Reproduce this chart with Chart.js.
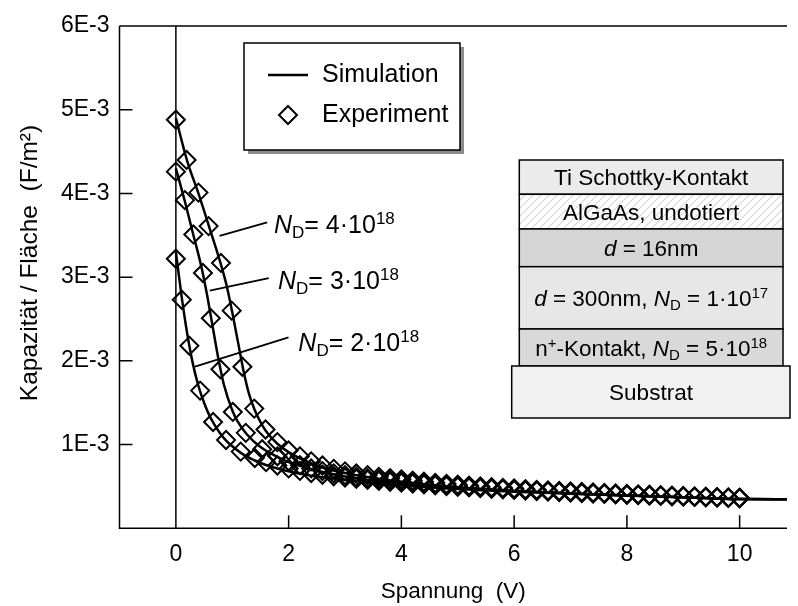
<!DOCTYPE html>
<html><head><meta charset="utf-8">
<script src="https://cdn.jsdelivr.net/npm/chart.js@4.4.1/dist/chart.umd.min.js"></script>
<style>html,body{margin:0;padding:0;background:#fff}#wrap{width:798px;height:606px;position:relative}</style>
</head><body><div id="wrap"><canvas id="c" width="798" height="606"></canvas></div>
<script>
const FONT = '"Liberation Sans", Arial, Helvetica, sans-serif';

// ---- Data (capacitance per area in units of 1E-3 F/m^2, voltage in V) ----
const xTicks = [0, 2, 4, 6, 8, 10];
const yTicks = [1, 2, 3, 4, 5, 6];

const exp4X = [0,0.19,0.40,0.58,0.80,0.99,1.18,1.39,1.59,1.8,2.0,2.2,2.4,2.6,2.8,3.0,3.2,3.4,3.6,3.8,4.0,4.2,4.4,4.6,4.8,5.0,5.2,5.4,5.6,5.8,6.0,6.2,6.4,6.6,6.8,7.0,7.2,7.4,7.6,7.8,8.0,8.2,8.4,8.6,8.8,9.0,9.2,9.4,9.6,9.8,10.0];
const exp4Y = [4.88,4.40,4.01,3.61,3.17,2.60,1.93,1.43,1.18,1.03,0.93,0.86,0.80,0.75,0.71,0.68,0.655,0.635,0.615,0.60,0.585,0.57,0.556,0.543,0.531,0.52,0.51,0.5,0.491,0.483,0.475,0.467,0.46,0.453,0.446,0.44,0.434,0.428,0.422,0.416,0.411,0.406,0.401,0.396,0.391,0.386,0.381,0.377,0.373,0.369,0.365];

const exp3X = [0,0.16,0.31,0.48,0.62,0.79,1.01,1.24,1.53,1.8,2.0,2.2,2.4,2.6,2.8,3.0,3.2,3.4,3.6,3.8,4.0,4.2,4.4,4.6,4.8,5.0,5.2,5.4,5.6,5.8,6.0,6.2,6.4,6.6,6.8,7.0,7.2,7.4,7.6,7.8,8.0,8.2,8.4,8.6,8.8,9.0,9.2,9.4,9.6,9.8,10.0];
const exp3Y = [4.26,3.92,3.51,3.05,2.51,1.90,1.39,1.14,0.944,0.86,0.80,0.755,0.715,0.683,0.657,0.635,0.616,0.60,0.585,0.572,0.56,0.548,0.536,0.525,0.515,0.505,0.496,0.487,0.479,0.471,0.464,0.457,0.45,0.444,0.438,0.432,0.426,0.42,0.415,0.41,0.405,0.4,0.395,0.39,0.386,0.381,0.377,0.373,0.369,0.365,0.361];

const exp2X = [0,0.105,0.24,0.43,0.66,0.89,1.15,1.4,1.6,1.8,2.0,2.2,2.4,2.6,2.8,3.0,3.2,3.4,3.6,3.8,4.0,4.2,4.4,4.6,4.8,5.0,5.2,5.4,5.6,5.8,6.0,6.2,6.4,6.6,6.8,7.0,7.2,7.4,7.6,7.8,8.0,8.2,8.4,8.6,8.8,9.0,9.2,9.4,9.6,9.8,10.0];
const exp2Y = [3.22,2.73,2.18,1.645,1.27,1.055,0.916,0.84,0.79,0.75,0.715,0.685,0.66,0.64,0.622,0.606,0.592,0.579,0.567,0.556,0.545,0.534,0.524,0.514,0.505,0.496,0.488,0.48,0.472,0.465,0.458,0.451,0.445,0.439,0.433,0.427,0.421,0.416,0.411,0.406,0.401,0.396,0.391,0.387,0.383,0.379,0.375,0.371,0.367,0.363,0.359];

const sim4X = [0,0.2,0.4,0.6,0.8,0.9,1.0,1.1,1.2,1.3,1.4,1.5,1.6,1.8,2.0,2.5,3,3.5,4,5,6,7,8,9,9.5,10,10.84];
const sim4Y = [4.9,4.39,4.0,3.58,3.15,2.9,2.58,2.23,1.88,1.6,1.41,1.27,1.16,1.01,0.91,0.75,0.66,0.6,0.555,0.49,0.45,0.418,0.393,0.37,0.358,0.349,0.347];

const sim3X = [0,0.15,0.3,0.45,0.55,0.65,0.75,0.85,1.0,1.1,1.25,1.5,1.75,2.0,2.5,3,3.5,4,5,6,7,8,9,9.5,10,10.84];
const sim3Y = [4.3,3.93,3.53,3.13,2.8,2.42,2.04,1.72,1.41,1.27,1.13,0.97,0.87,0.79,0.69,0.62,0.57,0.535,0.48,0.443,0.415,0.392,0.37,0.358,0.349,0.347];

const sim2X = [0,0.1,0.2,0.3,0.4,0.5,0.6,0.7,0.8,0.9,1.0,1.2,1.5,2.0,2.5,3.0,3.5,4,5,6,7,8,9,9.5,10,10.84];
const sim2Y = [3.3,2.78,2.33,1.97,1.7,1.5,1.34,1.22,1.12,1.04,0.98,0.88,0.78,0.68,0.62,0.58,0.545,0.515,0.47,0.438,0.413,0.391,0.37,0.358,0.349,0.347];

// annotation labels: leader start, leader end, text anchor (data units)
const ndLabels = ['4', '3', '2'];
const ndLeaderFrom = [[0.775, 3.494], [0.601, 2.840], [0.339, 1.932]];
const ndLeaderTo = [[1.619, 3.653], [1.648, 2.988], [1.998, 2.28]];
const ndTextAt = [[1.74, 3.64], [1.812, 2.966], [2.172, 2.227]];

const xTitle = 'Spannung  (V)';
const yTitle = 'Kapazität / Fläche  (F/m²)';
const legendLabels = ['Simulation', 'Experiment'];

// ---- helpers ----
const pts = (xs, ys) => xs.map((x, i) => ({x, y: ys[i]}));

function drawRich(ctx, segs, x, yc, size, align) {
  const parts = segs.map(([t, st]) => {
    const small = (st === 'sub' || st === 'sup');
    const s = small ? Math.round(size * 0.68) : size;
    const f = (st === 'i' ? 'italic ' : '') + s + 'px ' + FONT;
    ctx.font = f;
    return {t, st, f, w: ctx.measureText(t).width};
  });
  const total = parts.reduce((a, p) => a + p.w, 0);
  let cx = align === 'center' ? x - total / 2 : x;
  ctx.textAlign = 'left';
  ctx.textBaseline = 'alphabetic';
  const base = yc + size * 0.36;
  for (const p of parts) {
    ctx.font = p.f;
    let by = base;
    if (p.st === 'sub') by = base + size * 0.2;
    if (p.st === 'sup') by = base - size * 0.36;
    ctx.fillText(p.t, cx, by);
    cx += p.w;
  }
}

function hatchPattern(ctx) {
  const c = document.createElement('canvas');
  c.width = 8; c.height = 8;
  const g = c.getContext('2d');
  g.fillStyle = '#ffffff'; g.fillRect(0, 0, 8, 8);
  g.strokeStyle = '#d6d6d6'; g.lineWidth = 1.1;
  g.beginPath();
  g.moveTo(-2, 10); g.lineTo(10, -2);
  g.moveTo(-2, 2); g.lineTo(2, -2);
  g.moveTo(6, 10); g.lineTo(10, 6);
  g.stroke();
  return ctx.createPattern(c, 'repeat');
}

const framePlugin = {
  id: 'frame',
  beforeDatasetsDraw(chart) {
    const {ctx, chartArea: a, scales: {x, y}} = chart;
    ctx.save();
    ctx.strokeStyle = '#000'; ctx.lineWidth = 1.5;
    ctx.beginPath();
    ctx.moveTo(a.left, a.top); ctx.lineTo(a.left, a.bottom); ctx.lineTo(a.right, a.bottom);
    ctx.moveTo(a.left, a.top); ctx.lineTo(a.right, a.top);
    const x0 = x.getPixelForValue(0);
    ctx.moveTo(x0, a.top); ctx.lineTo(x0, a.bottom);
    yTicks.forEach(v => { const py = y.getPixelForValue(v); ctx.moveTo(a.left, py); ctx.lineTo(a.left + 13, py); });
    xTicks.forEach(v => { const px = x.getPixelForValue(v); ctx.moveTo(px, a.bottom); ctx.lineTo(px, a.bottom - 13); });
    ctx.stroke();
    ctx.restore();
  },
  afterDraw(chart) {
    const {ctx, scales: {x, y}} = chart;
    ctx.save();
    ctx.fillStyle = '#000'; ctx.strokeStyle = '#000';

    // y axis title
    ctx.save();
    ctx.translate(30, 263);
    ctx.rotate(-Math.PI / 2);
    ctx.font = '24.5px ' + FONT; ctx.textAlign = 'center'; ctx.textBaseline = 'middle';
    ctx.fillText(yTitle, 0, 0);
    ctx.restore();

    // N_D annotations
    ctx.lineWidth = 1.8;
    ndLabels.forEach((lab, i) => {
      ctx.beginPath();
      ctx.moveTo(x.getPixelForValue(ndLeaderFrom[i][0]), y.getPixelForValue(ndLeaderFrom[i][1]));
      ctx.lineTo(x.getPixelForValue(ndLeaderTo[i][0]), y.getPixelForValue(ndLeaderTo[i][1]));
      ctx.stroke();
      drawRich(ctx, [['N', 'i'], ['D', 'sub'], ['= ' + lab + '·10', ''], ['18', 'sup']],
        x.getPixelForValue(ndTextAt[i][0]), y.getPixelForValue(ndTextAt[i][1]), 25, 'left');
    });

    // legend box
    const L = {l: 244, t: 43, r: 460, b: 150};
    ctx.fillStyle = '#8c8c8c';
    ctx.fillRect(L.r, L.t + 4, 4, L.b - L.t);
    ctx.fillRect(L.l + 4, L.b, L.r - L.l, 4);
    ctx.fillStyle = '#fff';
    ctx.fillRect(L.l, L.t, L.r - L.l, L.b - L.t);
    ctx.lineWidth = 1.5; ctx.strokeStyle = '#000';
    ctx.strokeRect(L.l, L.t, L.r - L.l, L.b - L.t);
    ctx.lineWidth = 2.5;
    ctx.beginPath(); ctx.moveTo(268, 75); ctx.lineTo(308, 75); ctx.stroke();
    ctx.lineWidth = 2;
    ctx.beginPath(); ctx.moveTo(288, 106); ctx.lineTo(297, 115); ctx.lineTo(288, 124); ctx.lineTo(279, 115); ctx.closePath(); ctx.stroke();
    ctx.fillStyle = '#000';
    ctx.font = '25px ' + FONT; ctx.textAlign = 'left'; ctx.textBaseline = 'middle';
    ctx.fillText(legendLabels[0], 322, 75);
    ctx.fillText(legendLabels[1], 322, 115);

    // layer stack inset
    const lx0 = 519.3, lx1 = 783;
    const layers = [
      {t: 160, b: 194.3, fill: '#ebebeb', segs: [['Ti Schottky-Kontakt', '']]},
      {t: 194.3, b: 229, fill: 'hatch', segs: [['AlGaAs, undotiert', '']]},
      {t: 229, b: 266.7, fill: '#d5d5d5', segs: [['d', 'i'], [' = 16nm', '']]},
      {t: 266.7, b: 329, fill: '#e7e7e7', segs: [['d', 'i'], [' = 300nm, ', ''], ['N', 'i'], ['D', 'sub'], [' = 1·10', ''], ['17', 'sup']]},
      {t: 329, b: 366, fill: '#d9d9d9', segs: [['n', ''], ['+', 'sup'], ['-Kontakt, ', ''], ['N', 'i'], ['D', 'sub'], [' = 5·10', ''], ['18', 'sup']]}
    ];
    const pat = hatchPattern(ctx);
    ctx.lineWidth = 1.5;
    layers.forEach(ly => {
      ctx.fillStyle = ly.fill === 'hatch' ? pat : ly.fill;
      ctx.fillRect(lx0, ly.t, lx1 - lx0, ly.b - ly.t);
      ctx.strokeStyle = '#000';
      ctx.strokeRect(lx0, ly.t, lx1 - lx0, ly.b - ly.t);
      ctx.fillStyle = '#000';
      drawRich(ctx, ly.segs, (lx0 + lx1) / 2, (ly.t + ly.b) / 2, 22.5, 'center');
    });
    ctx.fillStyle = '#f1f1f1';
    ctx.fillRect(511.7, 366, 790 - 511.7, 52);
    ctx.strokeRect(511.7, 366, 790 - 511.7, 52);
    ctx.fillStyle = '#000';
    drawRich(ctx, [['Substrat', '']], 651, 392, 22.5, 'center');
    ctx.restore();
  }
};

const expStyle = {showLine: false, pointStyle: 'rectRot', pointRadius: 9, pointHoverRadius: 9,
  pointBorderWidth: 2, pointBorderColor: '#000', pointBackgroundColor: 'rgba(0,0,0,0)', borderColor: '#000'};
const simStyle = {showLine: true, pointRadius: 0, borderColor: '#000', borderWidth: 2.5,
  cubicInterpolationMode: 'monotone', fill: false};

new Chart(document.getElementById('c'), {
  type: 'scatter',
  data: {
    datasets: [
      Object.assign({label: 'Sim 2E18', data: pts(sim2X, sim2Y)}, simStyle),
      Object.assign({label: 'Sim 3E18', data: pts(sim3X, sim3Y)}, simStyle),
      Object.assign({label: 'Sim 4E18', data: pts(sim4X, sim4Y)}, simStyle),
      Object.assign({label: 'Exp 2E18', data: pts(exp2X, exp2Y)}, expStyle),
      Object.assign({label: 'Exp 3E18', data: pts(exp3X, exp3Y)}, expStyle),
      Object.assign({label: 'Exp 4E18', data: pts(exp4X, exp4Y)}, expStyle)
    ]
  },
  options: {
    responsive: false,
    animation: false,
    devicePixelRatio: 1,
    layout: {padding: {top: 26, right: 0, left: 0, bottom: 0}},
    plugins: {legend: {display: false}, tooltip: {enabled: false}},
    scales: {
      x: {
        type: 'linear', min: -1, max: 10.84,
        grid: {display: false, drawTicks: false},
        border: {display: false},
        afterBuildTicks: s => { s.ticks = xTicks.map(v => ({value: v})); },
        afterFit: s => { s.height = 77.7; },
        ticks: {color: '#000', padding: 13, font: {family: FONT, size: 23}, callback: v => String(v), maxRotation: 0, autoSkip: false},
        title: {display: true, text: xTitle, color: '#000', font: {family: FONT, size: 22.5}, padding: {top: 0, bottom: 1}}
      },
      y: {
        type: 'linear', min: 0, max: 6,
        grid: {display: false, drawTicks: false},
        border: {display: false},
        afterBuildTicks: s => { s.ticks = yTicks.map(v => ({value: v})); },
        afterFit: s => { s.width = 119.5; },
        ticks: {color: '#000', padding: 10, font: {family: FONT, size: 23}, callback: v => v + 'E-3', autoSkip: false},
        title: {display: false}
      }
    }
  },
  plugins: [framePlugin]
});
</script>
</body></html>
